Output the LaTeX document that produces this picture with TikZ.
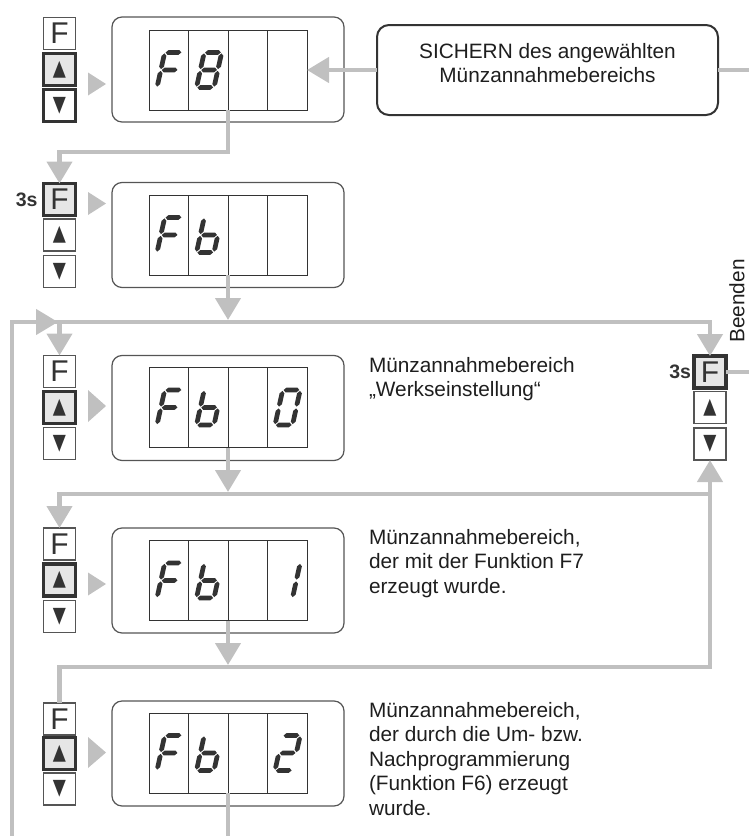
\documentclass[tikz,border=0pt]{standalone}
\usepackage{fontspec}
\setmainfont{Liberation Sans}
\newfontfamily\dejavu{DejaVu Sans}
\usetikzlibrary{arrows.meta}
\definecolor{connc}{RGB}{192,192,192}
\definecolor{framec}{RGB}{85,85,85}
\definecolor{darkc}{RGB}{51,51,51}
\definecolor{keyfill}{RGB}{230,230,230}
\definecolor{txtc}{RGB}{30,30,30}
\definecolor{segc}{RGB}{51,51,51}
\newcommand\hsg[3]{\fill[segc] (#1,#3) -- (#1+2.4,#3+2.4) -- (#2-2.4,#3+2.4) -- (#2,#3) -- (#2-2.4,#3-2.4) -- (#1+2.4,#3-2.4) -- cycle;}
\newcommand\vsg[3]{\fill[segc] (#1,#2) -- (#1+2.4,#2+2.4) -- (#1+2.4,#3-2.4) -- (#1,#3) -- (#1-2.4,#3-2.4) -- (#1-2.4,#2+2.4) -- cycle;}
\newcommand\sgA{\hsg{0.9}{16.6}{-35}}
\newcommand\sgG{\hsg{0.9}{16.6}{-17.5}}
\newcommand\sgD{\hsg{0.9}{16.6}{0}}
\newcommand\sgF{\vsg{0}{-34.1}{-18.4}}
\newcommand\sgB{\vsg{17.5}{-34.1}{-18.4}}
\newcommand\sgE{\vsg{0}{-16.6}{-0.9}}
\newcommand\sgC{\vsg{17.5}{-16.6}{-0.9}}
\newcommand\segdig[3]{\begin{scope}[shift={(#1,#2)}, xslant=0.22]\foreach \s in {#3} {\csname sg\s\endcsname}\end{scope}}
\tikzset{
  every node/.style={inner sep=0pt, outer sep=0pt},
  display/.style={draw=framec, line width=1.2pt, rounded corners=10pt, minimum width=232pt, minimum height=105pt},
  lcd/.style={draw=darkc, line width=1pt, minimum width=158pt, minimum height=80pt},
  keyF/.style={draw=framec, line width=1.1pt, minimum width=32pt, minimum height=32pt, font=\fontsize{30}{30}\selectfont, text=darkc},
  keyT/.style={draw=framec, line width=1.1pt, minimum width=32pt, minimum height=32pt, font=\dejavu\fontsize{20}{20}\selectfont, text=darkc},
  keyact/.style={line width=3.5pt, draw=darkc, fill=keyfill},
  conn/.style={draw=connc, line width=4.5pt},
  tipe/.style={-{Triangle[width=25pt,length=22pt]}},
  tips/.style={{Triangle[width=25pt,length=22pt]}-},
  secs/.style={font=\bfseries\fontsize{19.5}{20}\selectfont, text=darkc},
  desc/.style={font=\fontsize{20.8}{24.5}\selectfont, align=left, anchor=north west, text=txtc},
  sichbox/.style={draw=darkc, line width=2pt, rounded corners=12pt, minimum width=341pt, minimum height=90pt},
  pointer/.style={fill=connc}
}
\newcommand\up{\scalebox{0.85}[1.1]{▲}}
\newcommand\dn{\scalebox{0.85}[1.1]{▼}}
\begin{document}
\begin{tikzpicture}[x=1pt,y=-1pt]
\useasboundingbox (0,0) rectangle (749,836);
% displays
\foreach \i/\yc/\yl in {1/69.5/70, 2/235/235, 3/408/407.5, 4/580.5/580.5, 5/753.5/753} {
  \node[display] (dsp\i) at (228,\yc) {};
  \node[lcd] (lcd\i) at (228,\yl) {};
  \foreach \dx in {-39.5,0,39.5}
    \draw[darkc, line width=1pt] ([xshift=\dx pt]lcd\i.north) -- ([xshift=\dx pt]lcd\i.south);
}
% digits
\segdig{157}{87.5}{A,F,E,G}
\segdig{196.5}{87.5}{A,B,C,D,E,F,G}
\segdig{157}{252.5}{A,F,E,G}
\segdig{196.5}{252.5}{F,E,G,C,D}
\segdig{157}{425}{A,F,E,G}
\segdig{196.5}{425}{F,E,G,C,D}
\segdig{275}{425}{A,B,C,D,E,F}
\segdig{157}{598}{A,F,E,G}
\segdig{196.5}{598}{F,E,G,C,D}
\segdig{275}{598}{B,C}
\segdig{157}{770.5}{A,F,E,G}
\segdig{196.5}{770.5}{F,E,G,C,D}
\segdig{275}{770.5}{A,B,G,E,D}
% keys
\node[keyF] (kF1) at (59.5,33.5) {F};
\node[keyT, keyact] (kU1) at (59.5,69.5) {\up};
\node[keyT, line width=3.5pt, draw=darkc] (kD1) at (59.5,105.5) {\dn};
\node[keyF, keyact] (kF2) at (59.5,199.5) {F};
\node[keyT] (kU2) at (59.5,235) {\up};
\node[keyT] (kD2) at (59.5,271.5) {\dn};
\node[keyF] (kF3) at (59.5,371.5) {F};
\node[keyT, keyact] (kU3) at (59.5,407.5) {\up};
\node[keyT] (kD3) at (59.5,443.5) {\dn};
\node[keyF] (kF4) at (59.5,544) {F};
\node[keyT, keyact] (kU4) at (59.5,580) {\up};
\node[keyT] (kD4) at (59.5,616.5) {\dn};
\node[keyF] (kF5) at (59.5,719) {F};
\node[keyT, keyact] (kU5) at (59.5,753.5) {\up};
\node[keyT] (kD5) at (59.5,789) {\dn};
\node[keyF, keyact] (kFR) at (710,372) {F};
\node[keyT] (kUR) at (710,407.5) {\up};
\node[keyT] (kDR) at (710,444) {\dn};
\node[secs, anchor=east] (s2) at ([xshift=-6pt]kF2.west) {3s};
\node[secs, anchor=east] (sR) at ([xshift=-3pt]kFR.west) {3s};
% pointers
\fill[pointer] (88,72.5) -- (106,84) -- (88,95.5) -- cycle;
\fill[pointer] (88,192) -- (106,203.5) -- (88,215) -- cycle;
\fill[pointer] (88,390) -- (106,406) -- (88,422) -- cycle;
\fill[pointer] (88,572.5) -- (106,584) -- (88,595.5) -- cycle;
\fill[pointer] (88,737) -- (106,752.5) -- (88,768) -- cycle;
% sichern box
\node[sichbox] (sich) at (547.5,70) {};
\node[font=\fontsize{20.8}{24.5}\selectfont, align=center, text=txtc] (sicht) at (547.5,63) {SICHERN des angewählten\\Münzannahmebereichs};
% texts
\node[desc] (t3) at (369,357) {Münzannahmebereich\\„Werkseinstellung“};
\node[desc] (t4) at (369,529) {Münzannahmebereich,\\der mit der Funktion F7\\erzeugt wurde.};
\node[desc] (t5) at (369,702) {Münzannahmebereich,\\der durch die Um- bzw.\\Nachprogrammierung\\(Funktion F6) erzeugt\\wurde.};
\node[font=\fontsize{20.8}{24.5}\selectfont, text=txtc, rotate=90] (beend) at (737,301) {Beenden};
% coordinates
\coordinate (edgeT) at (749,70);
\coordinate (edgeR) at (749,372);
\coordinate (lpB) at (12,836);
\coordinate (lpL) at (12,322);
\coordinate (lpM) at (58,322);
\coordinate (lpR) at (710,322);
\coordinate (jb3) at (59.5,322);
\coordinate (j2) at (228,320);
\coordinate (j3) at (228,492);
\coordinate (j4) at (228,665);
\coordinate (r3L) at (59.5,494);
\coordinate (r3R) at (710,494);
\coordinate (r4L) at (59.5,667);
\coordinate (r4R) at (710,667);
\coordinate (bot5) at (228,836);
% connectors
\draw[conn] (edgeT) -- (sich.east);
\draw[conn, tipe] (sich.west) -- (lcd1.east);
\draw[conn, tipe] (lcd1.south) -- ++(0,42) -| (kF2.north);
\draw[conn, tipe] (lpB) -- (lpL) -- (lpR) -- (kFR.north);
\draw[conn, tipe] (lpL) -- (lpM);
\draw[conn, tipe] (lcd2.south) -- (j2);
\draw[conn, tipe] (jb3) -- (kF3.north);
\draw[conn, tipe] (lcd3.south) -- (j3);
\draw[conn, tips] (kF4.north) -- (r3L) -- (r3R);
\draw[conn, tipe] (lcd4.south) -- (j4);
\draw[conn, tips, tipe] (kF5.north) -- (r4L) -- (r4R) -- (kDR.south);
\draw[conn] (lcd5.south) -- (bot5);
\draw[conn] (kFR.east) -- (edgeR);
\end{tikzpicture}
\end{document}
